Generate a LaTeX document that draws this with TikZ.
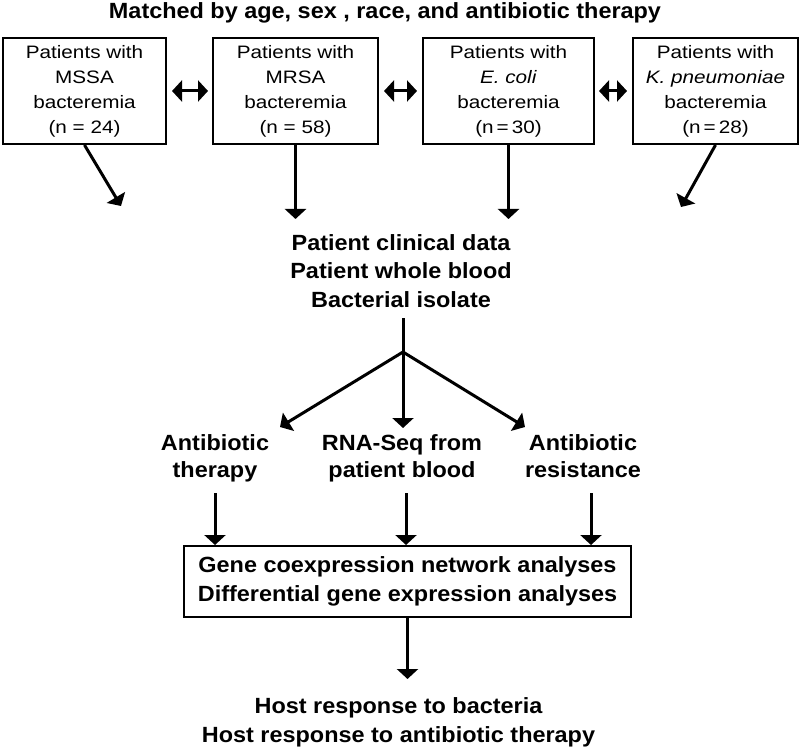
\documentclass[tikz,border=0pt]{standalone}
\usepackage{fontspec}
\setmainfont{Liberation Sans}
\newfontfamily\regf{Liberation Sans}[FakeStretch=1.15]
\newfontfamily\bldf{Liberation Sans}[FakeStretch=1.065]
\usetikzlibrary{arrows.meta}
\begin{document}
\begin{tikzpicture}[x=1pt,y=-1pt,
  box/.style={draw,line width=2pt,minimum height=106pt,inner sep=0pt,align=center,font=\regf\fontsize{18}{25}\selectfont},
  btxt/.style={inner sep=0pt,align=center,font=\bldf\bfseries\fontsize{22}{28.5}\selectfont},
  rowtxt/.style={btxt,font=\bldf\bfseries\fontsize{22}{27}\selectfont},
  arr/.style={line width=3pt,-{Triangle[width=21pt,length=10pt]}},
  dbl/.style={line width=3pt,{Triangle[width=21pt,length=10pt]}-{Triangle[width=21pt,length=10pt]}}]
\useasboundingbox (0,0) rectangle (800,751);

\node[btxt] (title) at (385,13) {Matched by age, sex , race, and antibiotic therapy};

\node[box,minimum width=163pt] (b1) at (84.5,91) {Patients with\\MSSA\\bacteremia\\(n = 24)};
\node[box,minimum width=165pt] (b2) at (295.5,91) {Patients with\\MRSA\\bacteremia\\(n = 58)};
\node[box,minimum width=171pt] (b3) at (508.5,91) {Patients with\\\textit{E. coli}\\bacteremia\\(n\,=\,30)};
\node[box,minimum width=165pt] (b4) at (715.5,91) {Patients with\\\textit{K. pneumoniae}\\bacteremia\\(n\,=\,28)};

\draw[dbl] ([xshift=5pt]b1.east) -- ([xshift=-4pt]b2.west);
\draw[dbl] ([xshift=5pt]b2.east) -- ([xshift=-5pt]b3.west);
\draw[dbl] ([xshift=4pt]b3.east) -- ([xshift=-5pt]b4.west);

\coordinate (e1) at (121,206);
\coordinate (e4) at (681,207);
\draw[arr] (b1.south) -- (e1);
\draw[arr] (b2.south) -- ++(0,74);
\draw[arr] (b3.south) -- ++(0,74);
\draw[arr] (b4.south) -- (e4);

\node[btxt] (mid) at (401,271) {Patient clinical data\\Patient whole blood\\Bacterial isolate};

\coordinate (jtop) at (403,318);
\coordinate (j) at (403,352);
\draw[line width=3pt] (jtop) -- (j);
\coordinate (r1) at (280,427);
\coordinate (r2) at (403,428);
\coordinate (r3) at (525,427);
\draw[arr] (j) -- (r1);
\draw[arr] (j) -- (r2);
\draw[arr] (j) -- (r3);

\node[rowtxt] (t1) at (215,458) {Antibiotic\\therapy};
\node[rowtxt] (t2) at (402,458) {RNA-Seq from\\patient blood};
\node[rowtxt] (t3) at (583,455.7) {Antibiotic\\resistance};

\node[btxt,draw,line width=2pt,minimum width=447pt,minimum height=71pt] (g) at (407.5,581.5)
  {Gene coexpression network analyses\\Differential gene expression analyses};

\coordinate (s1) at (215,493);
\coordinate (s2) at (406,493);
\coordinate (s3) at (591,493);
\draw[arr] (s1) -- (s1 |- g.north);
\draw[arr] (s2) -- (s2 |- g.north);
\draw[arr] (s3) -- (s3 |- g.north);

\draw[arr] (g.south) -- ++(0,61);

\node[btxt] (h) at (398.5,722.5) {Host response to bacteria\\Host response to antibiotic therapy};
\end{tikzpicture}
\end{document}
